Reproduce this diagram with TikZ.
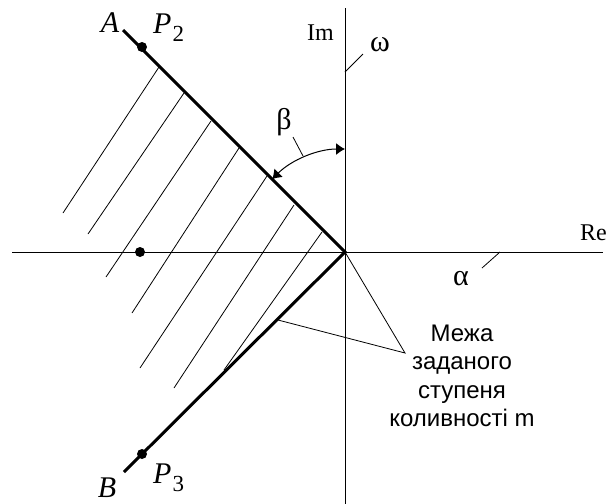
\documentclass[tikz,border=0pt]{standalone}
\usepackage{fontspec}
\setmainfont{Liberation Serif}
\newfontfamily\notefont{Liberation Sans}
\usetikzlibrary{positioning,arrows.meta}

\tikzset{
  axis/.style={line width=1pt},
  bound/.style={line width=3pt, line join=miter},
  hatch/.style={line width=0.8pt},
  leader/.style={line width=0.8pt},
  pole/.style={circle, fill=black, inner sep=0pt, minimum size=10pt},
  letter/.style={font=\fontsize{30}{30}\selectfont\itshape, inner sep=0pt},
  axlabel/.style={font=\fontsize{24}{24}\selectfont, inner sep=0pt},
  greek/.style={font=\fontsize{30}{30}\selectfont, inner sep=0pt},
  anglearrow/.style={line width=1pt, <->, >={Latex[length=9pt, width=12pt]}}
}

\begin{document}
\begin{tikzpicture}[x=1pt, y=-1pt]
\useasboundingbox (0,0) rectangle (614,504);

% origin and free ends of the two rays
\coordinate (O) at (345,252);
\coordinate (Aend) at (123,30);
\coordinate (Bend) at (124,472);

% axes
\coordinate (ReL) at (12,252);
\coordinate (ReR) at (603,252);
\coordinate (ImT) at (345,8);
\coordinate (ImB) at (345,504);
\draw[axis] (ReL) -- (ReR);
\draw[axis] (ImT) -- (ImB);

% hatching of the region left of the rays
\foreach \xa/\ya/\xb/\yb [count=\i] in {159/67/63/213, 184/93/88/234, 211/121/106/277,
    239/148/132/313, 267/176/140/368, 294/205/174/388, 322/232/224/370}{
  \coordinate (ha\i) at (\xa,\ya);
  \coordinate (hb\i) at (\xb,\yb);
  \draw[hatch] (ha\i) -- (hb\i);
}

% the two boundary rays
\draw[bound] (Aend) -- (O) -- (Bend);

% poles
\node[pole] (p2) at (142,47) {};
\node[pole] (p1) at (140,252) {};
\node[pole] (p3) at (142,454) {};

% angle beta between ray and imaginary axis
\coordinate (arcS) at ([shift={(-135:103)}]O);
\draw[anglearrow] (arcS) arc[start angle=-135, end angle=-90, radius=103];

% labels of rays and poles
\node[letter, anchor=base] (lblA) at (110,32) {A};
\node[letter, anchor=base] (lblB) at (107,497) {B};
\node[letter, anchor=base west] (lblP2) at (153,33) {P\kern1pt\textup{\raisebox{-8pt}{\fontsize{23}{23}\selectfont 2}}};
\node[letter, anchor=base west] (lblP3) at (153,483) {P\kern1pt\textup{\raisebox{-8pt}{\fontsize{23}{23}\selectfont 3}}};

% axis labels
\node[axlabel, anchor=base east] (lblIm) at (334,40) {Im};
\node[axlabel, anchor=base east] (lblRe) at (607,240) {Re};
\node[greek] (lblw) at (380,45) {ω};
\node[greek] (lbla) at (461,279) {α};
\node[greek, anchor=base] (lblb) at (284,129) {β};

% leaders
\coordinate (wA) at (363,54);
\coordinate (wB) at (345,72);
\draw[leader] (wA) -- (wB);
\coordinate (aA) at (500,252);
\coordinate (aB) at (482,268);
\draw[leader] (aA) -- (aB);
\coordinate (bA) at (293,137);
\coordinate (bB) at (303,156);
\draw[leader] (bA) -- (bB);

% note on the boundary
\node[font=\notefont\fontsize{24}{28.5}\selectfont, align=center, inner sep=0pt] (note) at (462,376)
  {Межа\\заданого\\ступеня\\коливності m};
\coordinate (nJ) at (405,353);
\coordinate (nB) at (278,320);
\draw[leader] (O) -- (nJ) -- (nB);

\end{tikzpicture}
\end{document}
